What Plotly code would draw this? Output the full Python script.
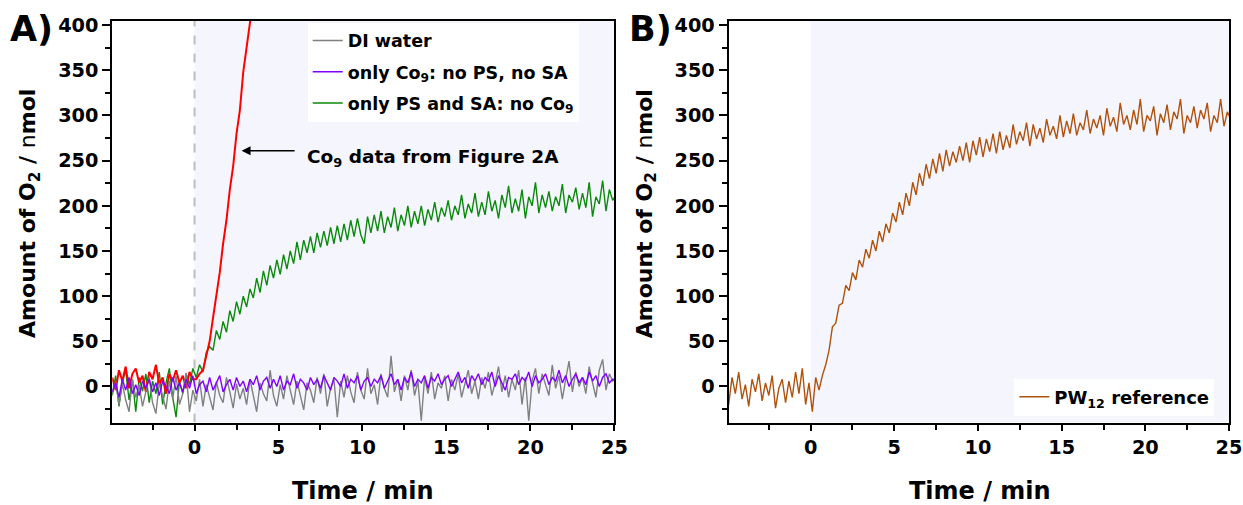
import numpy as np
import plotly.graph_objects as go

# time grid (min)
time = np.round(-4.9 + 0.2 * np.arange(151), 2)

di_water = [-8, 5, -20, 3, -15, -28, 8, -12, 2, -22,
            -6, 10, -18, -30, 4, -10, -25, 6, -14, 12,
            -20, -8, 15, -28, -4, -16, 8, -22, 2, -12,
            -26, 5, -10, -18, 10, -6, -24, 3, -14, -2,
            -20, 8, -12, -28, 4, -8, -16, 18, -10, -22,
            2, -14, 12, -6, -20, 6, -10, -26, 4, -4,
            -18, 10, -8, 14, -22, -2, 8, -34, 6, -12,
            12, -6, -18, 16, -4, -14, 20, -8, 2, -20,
            14, -2, -12, 34, -6, 8, -16, 12, -4, 18,
            -10, 6, -38, 10, -8, 16, -14, 4, -2, 12,
            -16, 8, -4, 14, -12, 2, 18, -8, 6, -14,
            10, -2, 16, -10, 4, 22, -6, 12, -12, 8,
            -4, 18, -20, 10, -38, 6, 20, -8, 14, 2,
            -10, 24, -2, 12, -14, 8, 28, -6, 16, 0,
            10, -8, 22, 4, -12, 18, 30, -4, 14, 6,
            10]

only_co9 = [-6, 4, -12, 8, -4, 10, -8, 2, -10, 6,
            -2, 8, -6, 4, -10, 6, 0, -8, 10, -4,
            4, -6, 8, -2, 12, -8, 2, 6, -6, 10,
            -4, 4, 12, -6, 2, 8, -4, 10, 0, 6,
            -6, 8, 2, 12, -4, 6, 10, -2, 8, 0,
            12, -4, 6, 2, 14, -2, 8, 4, -4, 10,
            2, 8, -2, 12, 4, -4, 10, 6, 0, 14,
            -2, 8, 4, 12, -4, 6, 10, 0, 8, 4,
            12, -2, 6, 14, 2, 8, -4, 10, 4, 16,
            0, 8, 4, 12, -2, 10, 6, 14, 2, 8,
            12, 0, 8, 16, 4, 10, -2, 12, 6, 14,
            2, 10, 6, 16, 0, 12, 4, -4, 10, 8,
            14, 2, 10, 6, 16, 0, 12, 4, 8, 14,
            2, 10, 6, 18, 4, 12, 0, 8, 14, 4,
            10, 2, 16, 6, 12, 0, 10, 14, 4, 8,
            6]

only_ps_sa = [-10, 12, -22, 5, 18, -15, 8, -28, 10, -5,
              14, -18, 6, -8, 16, -20, 4, 20, -12, -34,
              6, -8, 14, 2, 20, 10, 24, 16, 38, 44,
              40, 62, 52, 72, 60, 84, 72, 94, 80, 100,
              88, 108, 98, 120, 104, 128, 112, 134, 120, 140,
              124, 146, 130, 150, 136, 160, 140, 162, 148, 166,
              148, 170, 154, 172, 156, 176, 158, 178, 160, 180,
              162, 184, 166, 186, 168, 158, 188, 170, 190, 172,
              194, 170, 188, 176, 198, 172, 190, 178, 200, 176,
              194, 180, 200, 178, 196, 184, 204, 182, 198, 188,
              206, 184, 200, 190, 212, 186, 202, 192, 214, 188,
              204, 190, 216, 194, 206, 186, 212, 198, 222, 192,
              208, 194, 218, 186, 210, 200, 226, 192, 212, 198,
              216, 194, 210, 200, 224, 192, 212, 204, 220, 196,
              214, 198, 226, 188, 210, 202, 228, 194, 218, 206,
              212]

co9_fig2a = [10, -4, 18, 6, 22, -2, 14, 20, 4, 12,
             -6, 16, 8, 24, 2, 10, -8, 14, 6, 18,
             4, 12, -2, 16, 8, 8, 14, 18, 34, 50,
             76, 102, 126, 158, 184, 218, 244, 280, 306, 348,
             376, 402, 430]

pw12_ref = [-20, 10, -8, 16, -14, 2, -22, 8, -6, 14,
            -16, 4, -10, 12, -24, -2, 8, -18, 6, -12,
            16, -8, 20, -20, 4, -28, 10, -4, 12, 24,
            40, 66, 70, 90, 92, 112, 106, 126, 118, 140,
            132, 152, 142, 162, 150, 172, 160, 180, 170, 192,
            182, 204, 190, 214, 200, 226, 212, 236, 222, 246,
            230, 252, 236, 258, 238, 262, 244, 260, 248, 266,
            250, 270, 248, 272, 256, 276, 254, 274, 260, 280,
            258, 282, 262, 278, 264, 290, 268, 282, 272, 292,
            266, 290, 274, 286, 270, 296, 278, 288, 274, 300,
            276, 294, 280, 302, 278, 292, 284, 306, 280, 296,
            286, 300, 278, 308, 288, 298, 282, 314, 290, 300,
            284, 306, 290, 318, 282, 300, 294, 310, 278, 302,
            292, 312, 284, 304, 296, 318, 280, 300, 292, 310,
            286, 306, 296, 314, 282, 300, 292, 318, 288, 304,
            296]

x_ticks = [0, 5, 10, 15, 20, 25]
y_ticks = [0, 50, 100, 150, 200, 250, 300, 350, 400]

FONT = "DejaVu Sans"
LW = 1.4
W, H = 1243, 505
K = 0.9873  # observed page scale


def px(xr):
    return min(xr / K, W - 1) / W


def py(yr):
    return 1 - (yr / K - 8) / H


fig = go.Figure()

# Panel A
fig.add_trace(go.Scatter(x=time, y=only_ps_sa, mode="lines", name="only PS and SA: no Co<sub>9</sub>",
                         line=dict(color="#0A8A0A", width=LW), legendrank=3, legendgroup="g3",
                         legend="legend", xaxis="x", yaxis="y"))
fig.add_trace(go.Scatter(x=time[:len(co9_fig2a)], y=co9_fig2a, mode="lines",
                         line=dict(color="#FF0000", width=2), showlegend=False,
                         xaxis="x", yaxis="y"))
fig.add_trace(go.Scatter(x=time, y=di_water, mode="lines", name="DI water",
                         line=dict(color="#808080", width=LW), legendrank=1, legendgroup="g1",
                         legend="legend", xaxis="x", yaxis="y"))
fig.add_trace(go.Scatter(x=time, y=only_co9, mode="lines", name="only Co<sub>9</sub>: no PS, no SA",
                         line=dict(color="#8000FF", width=LW), legendrank=2, legendgroup="g2",
                         legend="legend", xaxis="x", yaxis="y"))

# Panel B
fig.add_trace(go.Scatter(x=time, y=pw12_ref, mode="lines", name="PW<sub>12</sub> reference",
                         line=dict(color="#B0520C", width=LW), legend="legend2",
                         xaxis="x2", yaxis="y2"))

XR = [-4.9, 25.0]
YR = [-40, 405]
dom_y = [py(424), py(21.5)]


def xaxis_cfg(domain, anchor):
    return dict(domain=domain, anchor=anchor, range=XR, tickvals=x_ticks,
                showline=True, linecolor="black", linewidth=2, mirror=True,
                ticks="outside", ticklen=6, tickwidth=1.5, tickcolor="black",
                minor=dict(dtick=2.5, tick0=0, ticks="outside", ticklen=5, tickwidth=1.5, tickcolor="black"),
                showgrid=False, zeroline=False,
                tickfont=dict(family=FONT, size=19.3, color="black", weight="bold"))


def yaxis_cfg(anchor):
    return dict(domain=dom_y, anchor=anchor, range=YR, tickvals=y_ticks,
                showline=True, linecolor="black", linewidth=2, mirror=True,
                ticks="outside", ticklen=8, tickwidth=1.5, tickcolor="black",
                minor=dict(dtick=25, tick0=0, ticks="outside", ticklen=5, tickwidth=1.5, tickcolor="black"),
                showgrid=False, zeroline=False,
                tickfont=dict(family=FONT, size=19.3, color="black", weight="bold"))


def right_ticks(overlay, anchor):
    return dict(overlaying=overlay, anchor=anchor, side="right", range=YR, tickvals=y_ticks,
                showticklabels=False, showline=False,
                ticks="inside", ticklen=8, tickwidth=1.5, tickcolor="black",
                minor=dict(dtick=25, tick0=0, ticks="inside", ticklen=5, tickwidth=1.5, tickcolor="black"),
                showgrid=False, zeroline=False)


fig.update_layout(
    width=W, height=H, autosize=False,
    margin=dict(l=0, r=0, t=0, b=0),
    paper_bgcolor="white", plot_bgcolor="white",
    xaxis=xaxis_cfg([px(112), px(613)], "y"),
    yaxis=yaxis_cfg("x"),
    xaxis2=xaxis_cfg([px(727), px(1228)], "y2"),
    yaxis2=yaxis_cfg("x2"),
    yaxis3=right_ticks("y", "x"),
    yaxis4=right_ticks("y2", "x2"),
    legend=dict(x=px(307), y=py(23.5), xanchor="left", yanchor="top", bgcolor="white",
                font=dict(family=FONT, size=17.5, color="black", weight="bold"),
                traceorder="grouped", tracegroupgap=5.5, itemwidth=30),
    legend2=dict(x=px(1012), y=0.254, xanchor="left", yanchor="top", bgcolor="white",
                 font=dict(family=FONT, size=18, color="black", weight="bold"), itemwidth=30),
)

# shaded region and dashed line
for xr, yr in (("x", "y"), ("x2", "y2")):
    fig.add_shape(type="rect", xref=xr, yref=yr, x0=0, x1=25, y0=YR[0], y1=YR[1],
                  fillcolor="#F5F6FD", line=dict(width=0), layer="below")
fig.add_shape(type="line", xref="x", yref="y", x0=0, x1=0, y0=YR[0], y1=YR[1],
              line=dict(color="#BDBDBD", width=2, dash="dash"), layer="below")

# arrow annotation
fig.add_annotation(xref="x", yref="y", x=2.8, y=261, ax=6.05, ay=261, axref="x", ayref="y",
                   text="", showarrow=True, arrowhead=2, arrowsize=1.2, arrowwidth=1.5, arrowcolor="black")
fig.add_annotation(xref="x", yref="y", x=6.6, y=253, xanchor="left", yanchor="middle",
                   text="Co<sub>9</sub> data from Figure 2A", showarrow=False,
                   font=dict(family=FONT, size=18.5, color="black", weight="bold"))

ylab = 'Amount of O<sub>2</sub> / <span style="font-weight:normal">n</span>mol'
for xr in (30, 645):
    fig.add_annotation(xref="paper", yref="paper", x=px(xr), y=py(215), text=ylab,
                       textangle=-90, showarrow=False, xanchor="center", yanchor="middle",
                       font=dict(family=FONT, size=22, color="black", weight="bold"))
for xr in (362, 978):
    fig.add_annotation(xref="paper", yref="paper", x=px(xr), y=py(492), text="Time / min",
                       showarrow=False, xanchor="center", yanchor="middle",
                       font=dict(family=FONT, size=24, color="black", weight="bold"))
for xr, lab in ((8, "A)"), (626, "B)")):
    fig.add_annotation(xref="paper", yref="paper", x=px(xr), y=py(30), text=lab,
                       showarrow=False, xanchor="left", yanchor="middle",
                       font=dict(family=FONT, size=35, color="black", weight="bold"))

fig.write_html("out.html", config={"responsive": False})
